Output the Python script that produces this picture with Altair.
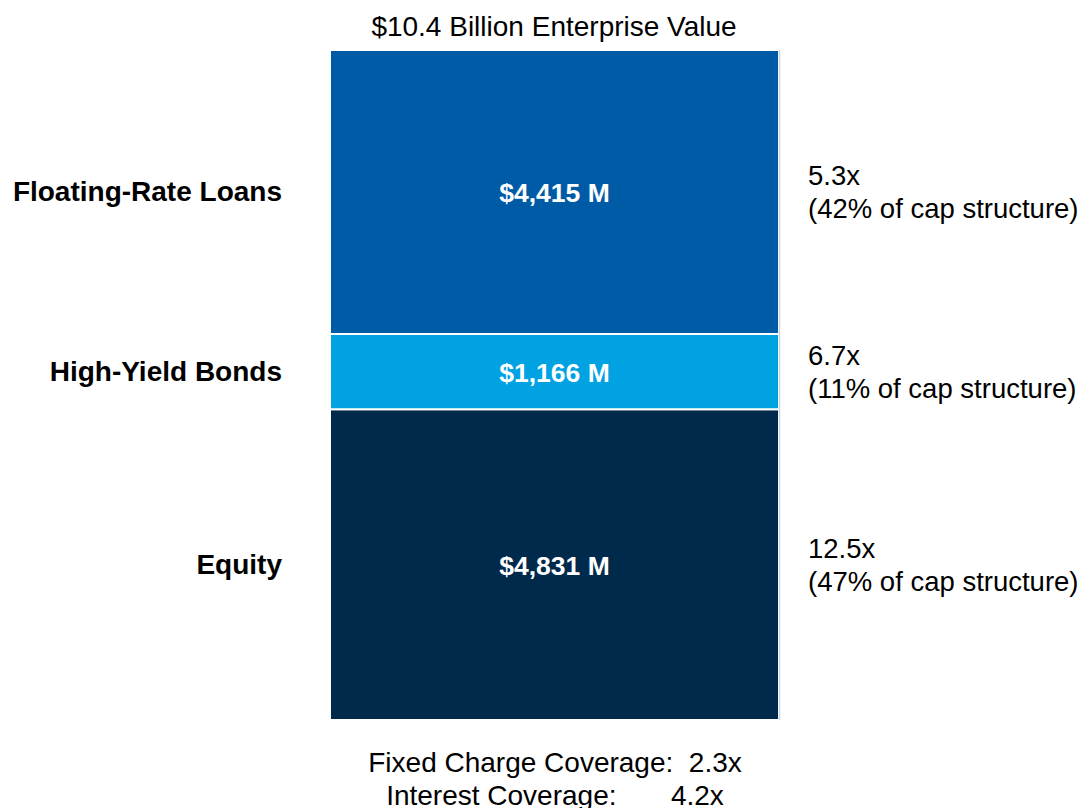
import altair as alt
import pandas as pd

# Data
names = ["Equity", "High-Yield Bonds", "Floating-Rate Loans"]
values = [4831, 1166, 4415]
multiples = ["12.5x", "6.7x", "5.3x"]
pcts = ["47%", "11%", "42%"]
colors = ["#002A4C", "#00A2E1", "#005BA6"]
stack_order = [0, 1, 2]

title_text = "$10.4 Billion Enterprise Value"
footer_lines = ["Fixed Charge Coverage:\u00a0 2.3x", "Interest Coverage:\u00a0\u00a0\u00a0\u00a0\u00a0\u00a0 4.2x"]

df = pd.DataFrame({
    "name": names,
    "value": values,
    "order": stack_order,
    "right": [m + "\n(" + p + " of cap structure)" for m, p in zip(multiples, pcts)],
    "label": ["${:,} M".format(v) for v in values],
})

total = sum(values)
FONT = "Liberation Sans"
yscale = alt.Scale(domain=[0, total], range=[712, 42], nice=False, zero=False)

base = alt.Chart(df).transform_stack(
    stack="value", as_=["y0", "y1"], groupby=[], sort=[alt.SortField("order")]
).transform_calculate(mid="(datum.y0 + datum.y1) / 2")

bars = base.mark_rect(stroke="white", strokeWidth=2).encode(
    x=alt.value(322), x2=alt.value(771),
    y=alt.Y("y0:Q", scale=yscale, axis=None), y2="y1:Q",
    color=alt.Color("name:N", scale=alt.Scale(domain=names, range=colors), legend=None),
)

edge = alt.Chart(pd.DataFrame({"a": [0], "b": [total]})).mark_rule(color="#C9D6E3", strokeWidth=1.5).encode(
    x=alt.value(771.5), y=alt.Y("a:Q", scale=yscale, axis=None), y2="b:Q"
)

inner = base.mark_text(font=FONT, fontSize=26.5, fontWeight="bold", color="white", baseline="middle", dy=2).encode(
    x=alt.value(546.5), y=alt.Y("mid:Q", scale=yscale, axis=None), text="label:N"
)

left = base.mark_text(font=FONT, fontSize=28, fontWeight="bold", color="black", align="right", baseline="middle", dy=1).encode(
    x=alt.value(274), y=alt.Y("mid:Q", scale=yscale, axis=None), text="name:N"
)

right = base.mark_text(font=FONT, fontSize=27.5, color="black", align="left", baseline="middle",
                       lineBreak="\n", lineHeight=33, dy=-15).encode(
    x=alt.value(800), y=alt.Y("mid:Q", scale=yscale, axis=None), text="right:N"
)

title = alt.Chart(pd.DataFrame({"t": [title_text]})).mark_text(
    font=FONT, fontSize=28, color="black", baseline="middle").encode(
    x=alt.value(546), y=alt.value(20), text="t:N"
)

footer = alt.Chart(pd.DataFrame({"t": ["\n".join(footer_lines)]})).mark_text(
    font=FONT, fontSize=28, color="black", baseline="top", lineBreak="\n", lineHeight=33).encode(
    x=alt.value(547), y=alt.value(742), text="t:N"
)

chart = alt.layer(bars, edge, inner, left, right, title, footer).properties(
    width=1073, height=800, padding=0, autosize=alt.AutoSizeParams(type="none"),
    background="white",
).configure_view(stroke=None)

chart.save("out.html", embed_options={"renderer": "svg", "actions": False})
